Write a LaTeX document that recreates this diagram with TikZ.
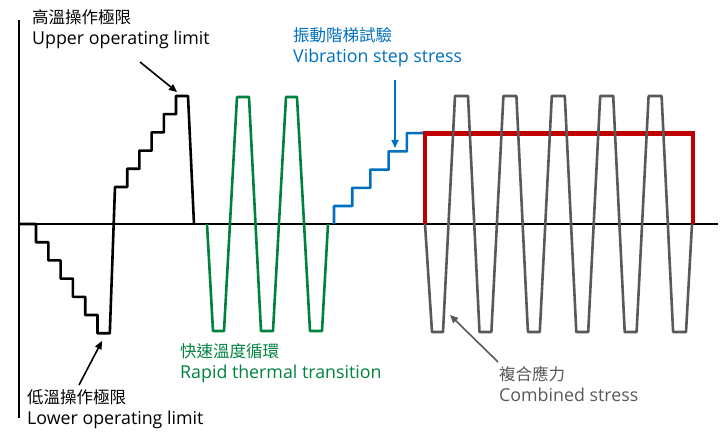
\documentclass[tikz,border=0pt]{standalone}
\usepackage{fontspec}
\setmainfont{Open Sans}
\newfontfamily\cjk{Noto Sans CJK TC}
\newcommand{\zh}[1]{{\cjk\fontsize{16.5}{21}\selectfont #1}}
\usetikzlibrary{arrows.meta}
\definecolor{curvegreen}{RGB}{0,130,62}
\definecolor{curveblue}{RGB}{0,112,192}
\definecolor{curvered}{RGB}{192,0,0}
\definecolor{curvegray}{RGB}{89,89,89}
\tikzset{
  curve/.style={line width=2.6pt, line join=round},
  lbl/.style={align=left, inner sep=0pt, anchor=west,
    font=\fontsize{17.8}{21}\selectfont},
  pointer/.style={-{Triangle[length=8pt,width=7pt]}, line width=1.6pt},
}
\begin{document}
\begin{tikzpicture}[x=1pt,y=-1pt]
			\useasboundingbox (0,0) rectangle (723,433);
			% Axes
			\draw[line width=2pt] (19,20) -- (19,418);
			\draw[line width=2pt] (19,224) -- (718,224);
			
			% Temperature step stress (black)
			\draw[curve] (19,224) -- (36,224)
			\foreach \k in {1,...,6}{
				-- ({36+12.3*(\k-1)},{224+18.2*\k}) -- ({36+12.3*\k},{224+18.2*\k})
			}
			-- (115,187)
			\foreach \k in {1,...,5}{
				-- ({115+12.2*\k},{187-18.2*(\k-1)}) -- ({115+12.2*\k},{187-18.2*\k})
			}
			-- (188,96) -- (194,224);
			
			% Rapid thermal transition (green)
			\draw[curve, curvegreen] (207,224) -- (213,331) -- (224,331)
			-- (237,97) -- (249,97) -- (261,331) -- (273,331)
			-- (286,97) -- (297,97) -- (310,331) -- (322,331) -- (328,224);
			
			% Vibration step stress (blue)
			\draw[curve, curveblue] (334,224) -- (334,206)
			\foreach \k in {1,...,4}{
				-- ({334+18.2*\k},{206-18.2*(\k-1)}) -- ({334+18.2*\k},{206-18.2*\k})
			}
			-- (425,133);
			
			% Combined stress: vibration level (red) and thermal cycles (gray)
			\draw[curvered, line width=4.6pt, line join=miter] (425,224) -- (425,133.5) -- (693,133.5) -- (693,224);
			\draw[curve, curvegray] (425,224) -- (432,332)
			\foreach \i in {0,...,4}{
				-- ({443+48.4*\i},332) -- ({455+48.4*\i},96) -- ({468+48.4*\i},96) -- ({479.5+48.4*\i},332)
			}
			-- (686,332) -- (692,224);
			
			% Labels
			\node[lbl] (upper) at (32,29) {\zh{高溫操作極限}\\Upper operating limit};
			\node[lbl] (lower) at (27,409) {\zh{低溫操作極限}\\Lower operating limit};
			\node[lbl, text=curveblue] (vibe) at (293,47) {\zh{振動階梯試驗}\\Vibration step stress};
			\node[lbl, text=curvegreen] (rapid) at (180,363) {\zh{快速溫度循環}\\Rapid thermal transition};
			\node[lbl, text=curvegray] (comb) at (499,384) {\zh{複合應力}\\Combined stress};
			
			% Pointers
			\coordinate (uptail) at (140,62);
			\coordinate (uptip) at (177,92);
			\coordinate (lowtail) at (79,385);
			\coordinate (lowtip) at (102,341);
			\coordinate (vibetail) at (395,80);
			\coordinate (vibetip) at (395,148);
			\coordinate (combtail) at (498,362);
			\coordinate (combtip) at (450,315);
			\draw[pointer] (uptail) -- (uptip);
			\draw[pointer] (lowtail) -- (lowtip);
			\draw[pointer, curveblue] (vibetail) -- (vibetip);
			\draw[pointer, curvegray] (combtail) -- (combtip);
		\end{tikzpicture}
\end{document}
